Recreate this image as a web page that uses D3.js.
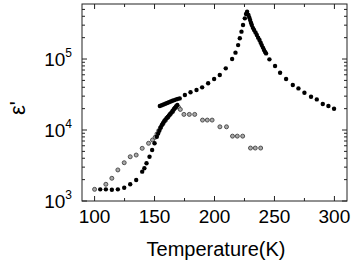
<!DOCTYPE html>
<html>
<head>
<meta charset="utf-8">
<script src="https://d3js.org/d3.v7.min.js"></script>
<style>
	body { margin: 0; background: #fff; }
	text { font-family: "Liberation Sans", Arial, sans-serif; fill: #000; }
</style>
</head>
<body>
<script>
// filled circles (upper series)
var heatT = [104.7, 109.4, 114.4, 119.4, 124.7, 129.7, 134.7, 139.7, 141.5, 143.3, 145.8, 148, 150, 151.9,
	153, 154, 155, 156, 157, 158, 159, 160, 161, 162, 163, 164, 165, 166, 167, 168, 169,
	154.4, 156, 157.5, 159, 160.5, 162, 163.5, 165, 166.5, 168, 169.5, 171,
	175.3, 180, 185, 189.7, 194.7, 199.7, 204.4, 209.4, 214.7, 217.5, 219.7, 221.1, 222.5, 223.8, 225.3, 226.3, 227.2,
	228.3, 229, 229.7, 230.4, 231.1, 232, 233, 234.2, 235.3, 236.4, 237.5, 238.5, 239.4, 240.4, 241.3, 242.2, 243,
	245.8, 250.5, 254.7, 259.7, 265.3, 270, 275, 280.5, 285.3, 290.3, 295, 299.7];
var heatE = [1460, 1460, 1440, 1460, 1540, 1720, 1980, 2590, 2900, 3400, 4200, 5230, 6500, 8050,
	8900, 9800, 10800, 11700, 12500, 13300, 14000, 14700, 15300, 16000, 16800, 17600, 18500, 19500, 20500, 21500, 22500,
	21800, 22300, 22900, 23400, 24000, 24600, 25200, 25800, 26400, 27000, 27500, 27900,
	31100, 34000, 36600, 39900, 45500, 52300, 59500, 73900, 100000, 123000, 157000, 196000, 243000, 301000, 374000, 430000, 463000,
	417000, 385000, 354000, 325000, 301000, 275000, 256000, 236000, 218000, 200000, 185000, 170000, 157000, 145000, 134000, 126000, 120000,
	99000, 79700, 64100, 52300, 43000, 38600, 33500, 29400, 27000, 23200, 21800, 19900];

// open circles (lower series)
var coolT = [100, 109.4, 114.4, 119.4, 124.7, 129.7, 134.7, 139.7, 145, 148.3,
	150.5, 152, 153.5, 155, 157, 159, 161, 163, 165, 166.5, 168, 170, 171.5,
	174.5, 179, 183.5, 190, 194, 198, 204.5, 210, 215, 219, 223.5, 230, 234, 238.5];
var coolE = [1460, 1720, 2090, 2740, 3460, 4200, 4440, 5520, 6500, 7230,
	7900, 8800, 9800, 10800, 12200, 13600, 15000, 16500, 18000, 20000, 21500, 21000, 19500,
	16600, 16600, 16600, 13800, 13800, 13800, 11100, 11100, 8200, 8200, 8200, 5570, 5570, 5570];

var xTicks = [100, 150, 200, 250, 300];
var yTicks = [1000, 10000, 100000];

var W = 354, H = 263;
var plot = {left: 82, right: 347, top: 4, bottom: 201};

var svg = d3.select("body").append("svg")
	.attr("width", W).attr("height", H);

var x = d3.scaleLinear().domain([89.5, 310.5]).range([plot.left, plot.right]);
var y = d3.scaleLog().domain([1000, 5.96e5]).range([plot.bottom, plot.top]);

// minor / major ticks
var xMinor = d3.range(100, 310, 25);
var yMinor = [];
[1000, 10000, 100000].forEach(function(b){
	for (var k = 1; k < 10; k++) { if (b * k <= 5.96e5) yMinor.push(b * k); }
});

var tk = svg.append("g").attr("stroke", "#222").attr("stroke-width", 1);

xMinor.forEach(function(v){
	var len = (v % 50 == 0) ? 5 : 3;
	tk.append("line").attr("x1", x(v)).attr("x2", x(v)).attr("y1", plot.bottom).attr("y2", plot.bottom - len);
	tk.append("line").attr("x1", x(v)).attr("x2", x(v)).attr("y1", plot.top).attr("y2", plot.top + len);
});
yMinor.forEach(function(v){
	var m = Math.log10(v);
	var len = (Math.abs(m - Math.round(m)) < 1e-9) ? 5 : 3;
	tk.append("line").attr("x1", plot.left).attr("x2", plot.left + len).attr("y1", y(v)).attr("y2", y(v));
	tk.append("line").attr("x1", plot.right).attr("x2", plot.right - len).attr("y1", y(v)).attr("y2", y(v));
});

svg.append("rect")
	.attr("x", plot.left).attr("y", plot.top)
	.attr("width", plot.right - plot.left).attr("height", plot.bottom - plot.top)
	.attr("fill", "none").attr("stroke", "#222").attr("stroke-width", 1);

// x tick labels
svg.selectAll(".xl").data(xTicks).enter().append("text")
	.attr("class", "xl")
	.attr("x", function(d){ return x(d); })
	.attr("y", 223)
	.attr("text-anchor", "middle")
	.style("font-size", "19px")
	.text(function(d){ return d; });

// y tick labels 10^n
var yl = svg.selectAll(".yl").data(yTicks).enter().append("text")
	.attr("class", "yl")
	.attr("x", 72)
	.attr("y", function(d){ return y(d) + 7; })
	.attr("text-anchor", "end")
	.style("font-size", "19px");
yl.append("tspan").text("10");
yl.append("tspan")
	.attr("dy", -9)
	.style("font-size", "12px")
	.text(function(d){ return Math.round(Math.log10(d)); });

svg.append("text")
	.attr("x", 216).attr("y", 256)
	.attr("text-anchor", "middle")
	.style("font-size", "20px")
	.text("Temperature(K)");

svg.append("text")
	.attr("transform", "translate(25,108) rotate(-90)")
	.attr("text-anchor", "middle")
	.style("font-size", "22px")
	.text("ε'");

// data
var heat = heatT.map(function(t, i){ return {t: t, e: heatE[i]}; });
var cool = coolT.map(function(t, i){ return {t: t, e: coolE[i]}; });

svg.selectAll(".cool").data(cool).enter().append("circle")
	.attr("class", "cool")
	.attr("cx", function(d){ return x(d.t); })
	.attr("cy", function(d){ return y(d.e); })
	.attr("r", 2)
	.attr("fill", "#a8a8a8")
	.attr("stroke", "#444")
	.attr("stroke-width", 0.9);

svg.selectAll(".heat").data(heat).enter().append("circle")
	.attr("class", "heat")
	.attr("cx", function(d){ return x(d.t); })
	.attr("cy", function(d){ return y(d.e); })
	.attr("r", 2.2)
	.attr("fill", "#000");
</script>
</body>
</html>
